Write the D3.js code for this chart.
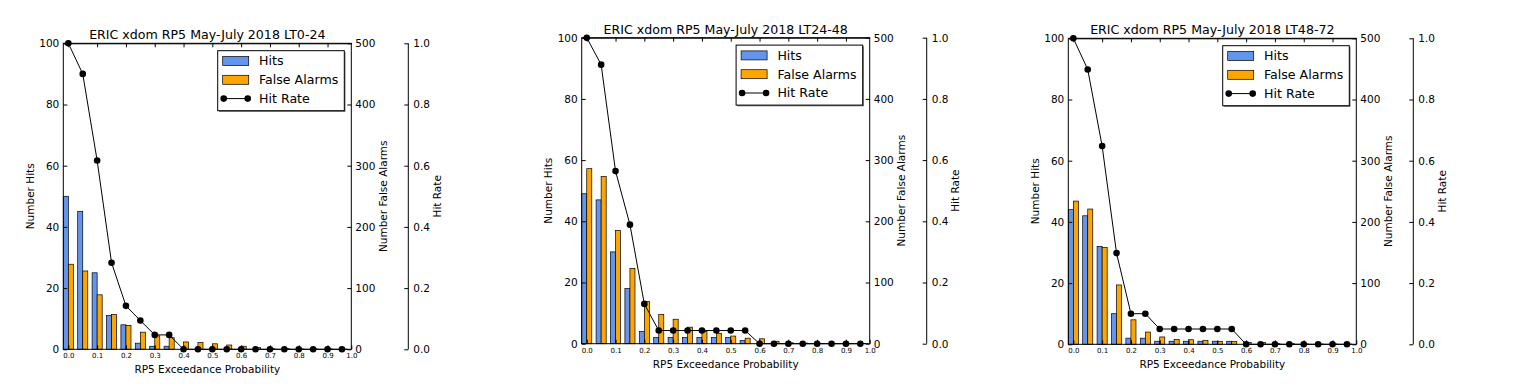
<!DOCTYPE html>
<html>
<head>
<meta charset="utf-8">
<script src="https://cdn.jsdelivr.net/npm/d3@7"></script>
<style>
body { margin: 0; background: #fff; }
text { font-family: "DejaVu Sans", sans-serif; fill: #000; }
</style>
</head>
<body>
<script>
// exceedance probability bins
var probs = [0.0, 0.05, 0.1, 0.15, 0.2, 0.25, 0.3, 0.35, 0.4, 0.45,
	0.5, 0.55, 0.6, 0.65, 0.7, 0.75, 0.8, 0.85, 0.9, 0.95];

var xTickLabels = ['0.0', '0.1', '0.2', '0.3', '0.4', '0.5', '0.6', '0.7', '0.8', '0.9', '1.0'];
var hitsTicks = [0, 20, 40, 60, 80, 100];
var faTicks = [0, 100, 200, 300, 400, 500];
var rateTicks = [0, 0.2, 0.4, 0.6, 0.8, 1.0];

var titles = [
	'ERIC xdom RP5 May-July 2018 LT0-24',
	'ERIC xdom RP5 May-July 2018 LT24-48',
	'ERIC xdom RP5 May-July 2018 LT48-72'
];

var hits024 = [50, 45, 25, 11, 8, 2, 1, 1, 0, 0, 0, 0, 0, 0, 0, 0, 0, 0, 0, 0];
var fa024 = [139, 128, 89, 57, 39, 28, 22, 19, 12, 11, 9, 7, 5, 3, 1, 1, 0.5, 0.5, 0.5, 0.5];
var rate024 = [1.0, 0.9, 0.617, 0.283, 0.142, 0.094, 0.047, 0.047, 0, 0, 0, 0, 0, 0, 0, 0, 0, 0, 0, 0];

var hits2448 = [49, 47, 30, 18, 4, 2, 2, 2, 2, 2, 2, 1, 0, 0, 0, 0, 0, 0, 0, 0];
var fa2448 = [286, 273, 185, 123, 69, 48, 40, 27, 20, 17, 12.5, 9, 8, 4, 1.5, 1, 0.5, 0.5, 0.5, 0.5];
var rate2448 = [1.0, 0.912, 0.564, 0.389, 0.13, 0.043, 0.043, 0.043, 0.043, 0.043, 0.043, 0.043, 0, 0, 0, 0, 0, 0, 0, 0];

var hits4872 = [44, 42, 32, 10, 2, 2, 1, 1, 1, 1, 1, 1, 0, 0, 0, 0, 0, 0, 0, 0];
var fa4872 = [234, 221, 158, 97, 40, 20, 12, 8, 7.5, 6.5, 4.5, 4.5, 3, 3, 1, 1, 0.5, 0.5, 0.5, 0.5];
var rate4872 = [1.0, 0.898, 0.648, 0.298, 0.1, 0.1, 0.05, 0.05, 0.05, 0.05, 0.05, 0.05, 0, 0, 0, 0, 0, 0, 0, 0];

var panels = [
	{title: titles[0], hits: hits024, fa: fa024, rate: rate024, left: 63.3, top: 43.3},
	{title: titles[1], hits: hits2448, fa: fa2448, rate: rate2448, left: 581.7, top: 37.7},
	{title: titles[2], hits: hits4872, fa: fa4872, rate: rate4872, left: 1068.3, top: 38.3}
];

var W = 288, H = 306;
var bw = 0.0175; // bar width in probability units
var blue = '#6495ED', orange = '#FFA500';

var svg = d3.select('body')
	.append('svg')
	.attr('width', 1514)
	.attr('height', 388);

panels.forEach(function(p) {
	var g = svg.append('g').attr('transform', 'translate(' + p.left + ',' + p.top + ')');

	var x = d3.scaleLinear().domain([-bw, 0.9825]).range([0, W]);
	var yHits = d3.scaleLinear().domain([0, 100]).range([H, 0]);
	var yFa = d3.scaleLinear().domain([0, 500]).range([H, 0]);
	var yRate = d3.scaleLinear().domain([0, 1]).range([H, 0]);

	// hits bars (left of bin)
	g.selectAll('rect.hits')
		.data(probs)
		.enter()
		.append('rect')
		.attr('x', function(d) { return x(d - bw); })
		.attr('y', function(d, i) { return yHits(p.hits[i]); })
		.attr('width', x(bw) - x(0))
		.attr('height', function(d, i) { return H - yHits(p.hits[i]); })
		.attr('fill', blue)
		.attr('stroke', '#000')
		.attr('stroke-width', 0.7);

	// false alarm bars (right of bin)
	g.selectAll('rect.fa')
		.data(probs)
		.enter()
		.append('rect')
		.attr('x', function(d) { return x(d); })
		.attr('y', function(d, i) { return yFa(p.fa[i]); })
		.attr('width', x(bw) - x(0))
		.attr('height', function(d, i) { return H - yFa(p.fa[i]); })
		.attr('fill', orange)
		.attr('stroke', '#000')
		.attr('stroke-width', 0.7);

	// hit rate line
	var line = d3.line()
		.x(function(d) { return x(d); })
		.y(function(d, i) { return yRate(p.rate[i]); });

	g.append('path')
		.datum(probs)
		.attr('d', line)
		.attr('fill', 'none')
		.attr('stroke', '#000')
		.attr('stroke-width', 1);

	g.selectAll('circle.rate')
		.data(probs)
		.enter()
		.append('circle')
		.attr('cx', function(d) { return x(d); })
		.attr('cy', function(d, i) { return yRate(p.rate[i]); })
		.attr('r', 3.3)
		.attr('fill', '#000');

	// axes box
	g.append('rect')
		.attr('width', W)
		.attr('height', H)
		.attr('fill', 'none')
		.attr('stroke', '#000')
		.attr('stroke-width', 1);

	var xTickVals = [0, 0.1, 0.2, 0.3, 0.4, 0.5, 0.6, 0.7, 0.8, 0.9, 0.9825];
	var fmtX = function(d, i) { return xTickLabels[i]; };

	var xBottom = d3.axisBottom(x).tickValues(xTickVals).tickFormat(fmtX).tickSizeInner(-4).tickSizeOuter(0).tickPadding(4);
	var gx = g.append('g').attr('transform', 'translate(0,' + H + ')').call(xBottom);
	gx.selectAll('text').style('font-size', '7px');

	var xTop = d3.axisTop(x).tickValues(xTickVals.slice(0, 10)).tickFormat('').tickSizeInner(-4).tickSizeOuter(0);
	g.append('g').call(xTop);

	var gl = g.append('g').call(d3.axisLeft(yHits).tickValues(hitsTicks).tickSizeInner(-4).tickSizeOuter(0).tickPadding(4));
	gl.selectAll('text').style('font-size', '10.5px');

	var gr = g.append('g').attr('transform', 'translate(' + W + ',0)')
		.call(d3.axisRight(yFa).tickValues(faTicks).tickSizeInner(-4).tickSizeOuter(0).tickPadding(4));
	gr.selectAll('text').style('font-size', '10.5px');

	var g3 = g.append('g').attr('transform', 'translate(' + (W + 57) + ',0)')
		.call(d3.axisRight(yRate).tickValues(rateTicks).tickFormat(d3.format('.1f')).tickSizeInner(-4).tickSizeOuter(0).tickPadding(5));
	g3.selectAll('text').style('font-size', '10.5px');

	[gx, gl, gr, g3].forEach(function(a) { a.select('.domain').remove(); });
	g.selectAll('.tick line').attr('stroke', '#000');
	g3.append('line').attr('x1', 0).attr('x2', 0).attr('y1', 0).attr('y2', H).attr('stroke', '#000');

	// titles and labels
	g.append('text')
		.attr('x', W / 2).attr('y', -4)
		.attr('text-anchor', 'middle')
		.style('font-size', '12.6px')
		.text(p.title);

	g.append('text')
		.attr('x', W / 2).attr('y', H + 24)
		.attr('text-anchor', 'middle')
		.style('font-size', '10.5px')
		.text('RP5 Exceedance Probability');

	g.append('text')
		.attr('transform', 'translate(-33.3,' + H / 2 + ') rotate(-90)')
		.attr('text-anchor', 'middle')
		.attr('dy', '0.35em')
		.style('font-size', '10.5px')
		.text('Number Hits');

	g.append('text')
		.attr('transform', 'translate(' + (W + 32) + ',' + H / 2 + ') rotate(-90)')
		.attr('text-anchor', 'middle')
		.attr('dy', '0.35em')
		.style('font-size', '10.5px')
		.text('Number False Alarms');

	g.append('text')
		.attr('transform', 'translate(' + (W + 57 + 29) + ',' + H / 2 + ') rotate(-90)')
		.attr('text-anchor', 'middle')
		.attr('dy', '0.35em')
		.style('font-size', '10.5px')
		.text('Hit Rate');

	// legend
	var lg = g.append('g').attr('transform', 'translate(154.4,7.4)');
	lg.append('rect').attr('x', 1.2).attr('y', 1.2).attr('width', 126.6).attr('height', 60).attr('fill', '#777');
	lg.append('rect').attr('width', 126.6).attr('height', 60).attr('fill', '#fff').attr('stroke', '#000').attr('stroke-width', 1);

	var items = [
		{label: 'Hits', color: blue},
		{label: 'False Alarms', color: orange},
		{label: 'Hit Rate'}
	];
	items.forEach(function(it, i) {
		var cy = 10.3 + i * 18.8;
		if (it.color) {
			lg.append('rect').attr('x', 5).attr('y', cy - 4.5).attr('width', 26).attr('height', 9)
				.attr('fill', it.color).attr('stroke', '#000').attr('stroke-width', 0.7);
		} else {
			lg.append('line').attr('x1', 6).attr('x2', 30).attr('y1', cy).attr('y2', cy).attr('stroke', '#000');
			lg.selectAll('circle.l' + i).data([6, 30]).enter().append('circle')
				.attr('cx', function(d) { return d; }).attr('cy', cy).attr('r', 3.3).attr('fill', '#000');
		}
		lg.append('text').attr('x', 41.3).attr('y', cy).attr('dy', '0.35em')
			.style('font-size', '12.6px').text(it.label);
	});
});
</script>
</body>
</html>
